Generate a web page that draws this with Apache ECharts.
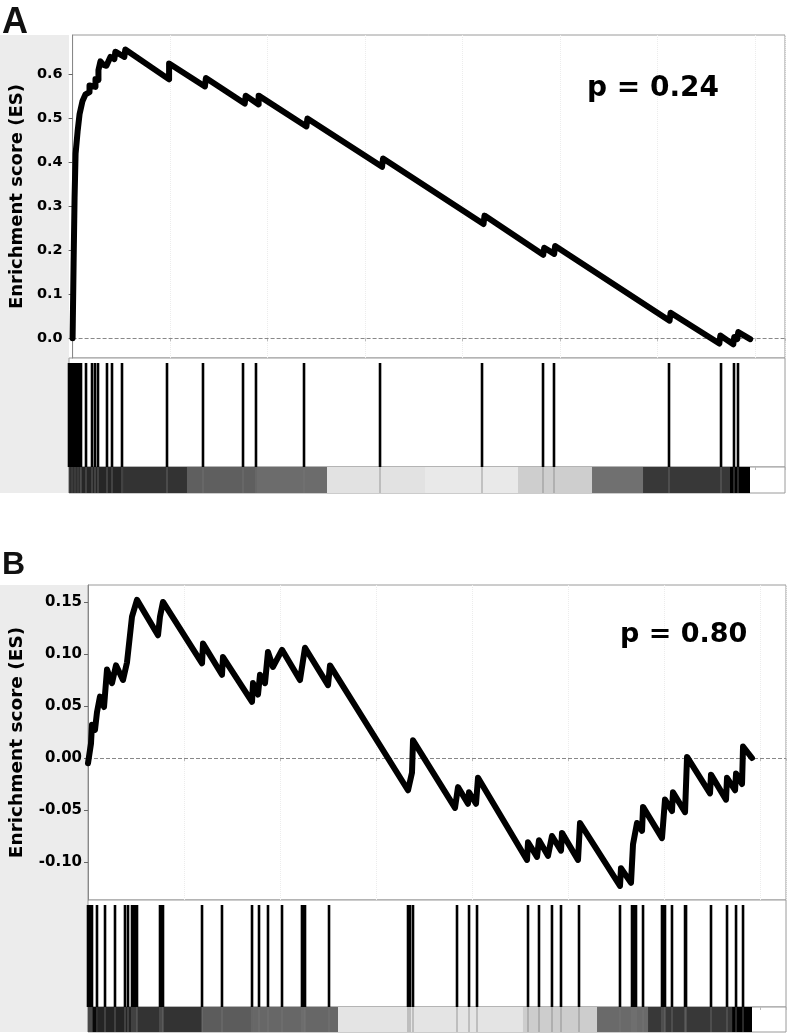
<!DOCTYPE html>
<html>
<head>
<meta charset="utf-8">
<script src="https://cdn.jsdelivr.net/npm/echarts@6/dist/echarts.min.js"></script>
<style>
  html, body { margin: 0; padding: 0; background: #fff; }
  #chart { width: 792px; height: 1036px; }
</style>
</head>
<body>
<div id="chart"></div>
<script>
// ---- panel A : running enrichment score, [rank, ES]
const esA = [
  [0, 0], [26, 0.17], [51, 0.32], [77, 0.42], [128, 0.47], [179, 0.51], [255, 0.54], [332, 0.555],
  [434, 0.56], [434, 0.575], [587, 0.572], [587, 0.59], [663, 0.588], [663, 0.61], [714, 0.63],
  [791, 0.622], [867, 0.62], [969, 0.64], [1071, 0.635], [1097, 0.652], [1327, 0.64], [1352, 0.657],
  [1403, 0.657], [2474, 0.589], [2474, 0.625], [3393, 0.573], [3418, 0.592], [4413, 0.534],
  [4439, 0.552], [4770, 0.532], [4770, 0.552], [5995, 0.482], [6020, 0.5], [7934, 0.39],
  [7959, 0.409], [10536, 0.26], [10561, 0.279], [12066, 0.19], [12092, 0.206], [12347, 0.192],
  [12372, 0.21], [15306, 0.04], [15332, 0.058], [16582, -0.012], [16607, 0.006], [16939, -0.014],
  [16964, 0.003], [17041, -0.002], [17066, 0.014], [17372, -0.002]
];
// gene set members (ranks)
const hitsA = [0, 38, 77, 115, 153, 191, 230, 268, 306, 434, 587, 663, 740, 969, 1097, 1352,
  2500, 3418, 4439, 4770, 5995, 7934, 10536, 12092, 12372, 15306, 16633, 16964, 17066];
// ranked-list metric shading: [fromRank, toRank, grey level]
const shadeA = [
  [0, 281, 8], [281, 1378, 38], [1378, 3010, 51], [3010, 4796, 95], [4796, 6582, 108],
  [6582, 9082, 226], [9082, 11454, 233], [11454, 13342, 206], [13342, 14643, 112],
  [14643, 16862, 56], [16862, 17372, 0]
];
const ticksA = [0, 0.1, 0.2, 0.3, 0.4, 0.5, 0.6];
const pA = 'p = 0.24';

// ---- panel B
const esB = [
  [0, -0.005], [26, -0.005], [78, 0.014], [104, 0.032], [182, 0.027], [234, 0.044], [312, 0.059],
  [417, 0.049], [495, 0.085], [625, 0.072], [729, 0.089], [911, 0.075], [1016, 0.092],
  [1146, 0.136], [1276, 0.152], [1823, 0.118], [1875, 0.136], [1953, 0.15], [2969, 0.091],
  [2995, 0.11], [3489, 0.08], [3515, 0.097], [4271, 0.054], [4297, 0.072], [4427, 0.061],
  [4479, 0.08], [4609, 0.072], [4687, 0.102], [4817, 0.0875], [5052, 0.104], [5520, 0.075],
  [5651, 0.106], [6250, 0.07], [6302, 0.089], [8333, -0.031], [8437, -0.014], [8463, 0.017],
  [9557, -0.048], [9635, -0.028], [9895, -0.044], [9922, -0.033], [10104, -0.044],
  [10156, -0.019], [11432, -0.098], [11458, -0.081], [11692, -0.095], [11744, -0.079],
  [11978, -0.094], [12082, -0.075], [12317, -0.089], [12343, -0.072], [12760, -0.098],
  [12812, -0.0625], [13853, -0.123], [13879, -0.106], [14140, -0.12], [14192, -0.083],
  [14296, -0.0625], [14427, -0.07], [14453, -0.047], [14635, -0.058], [14947, -0.077],
  [15025, -0.04], [15207, -0.051], [15233, -0.033], [15547, -0.052], [15599, 0.001],
  [16197, -0.034], [16223, -0.016], [16614, -0.04], [16640, -0.019], [16849, -0.031],
  [16875, -0.015], [17031, -0.025], [17057, 0.011], [17290, 0]
];
const hitsB = [0, 26, 52, 78, 104, 234, 443, 703, 963, 1042, 1146, 1198, 1250, 1276, 1875, 1927,
  1953, 2969, 3489, 4271, 4453, 4687, 5052, 5572, 5625, 5651, 6276, 8333, 8385, 8463, 9609,
  9922, 10130, 11458, 11744, 12082, 12317, 12786, 13853, 14166, 14218, 14270, 14453, 14947,
  14999, 15025, 15207, 15547, 15573, 16223, 16640, 16875, 17057];
const shadeB = [
  [0, 260, 8], [260, 1276, 36], [1276, 2969, 51], [2969, 4297, 92], [4297, 6510, 103],
  [6510, 11327, 228], [11327, 13255, 205], [13255, 14583, 106], [14583, 16771, 56],
  [16771, 17290, 0]
];
const ticksB = [-0.1, -0.05, 0, 0.05, 0.1, 0.15];
const pB = 'p = 0.80';

const FONT = 'DejaVu Sans';

function hitItem(params, api) {
  const cs = params.coordSys;
  const x = api.coord([api.value(0), 0])[0];
  return {
    type: 'line',
    shape: { x1: x, y1: cs.y + 5, x2: x, y2: cs.y + cs.height },
    style: { stroke: '#000', lineWidth: 2.6 }
  };
}
function ghostItem(params, api) {
  const cs = params.coordSys;
  const x = api.coord([api.value(0), 0])[0];
  return {
    type: 'line',
    shape: { x1: x, y1: cs.y, x2: x, y2: cs.y + cs.height },
    style: { stroke: 'rgba(120,120,120,0.35)', lineWidth: 2 }
  };
}
function shadeItem(params, api) {
  const cs = params.coordSys;
  const x0 = api.coord([api.value(0), 0])[0];
  const x1 = api.coord([api.value(1), 0])[0];
  const g = api.value(2);
  return {
    type: 'rect',
    shape: { x: x0, y: cs.y, width: x1 - x0, height: cs.height },
    style: { fill: 'rgb(' + g + ',' + g + ',' + g + ')' }
  };
}

function panel(cfg, gi) {
  const grids = [
    { left: cfg.left, top: cfg.top, width: cfg.width, height: cfg.esH },
    { left: cfg.left, top: cfg.top + cfg.esH, width: cfg.width, height: cfg.hitH },
    { left: cfg.left, top: cfg.top + cfg.esH + cfg.hitH, width: cfg.width, height: cfg.barH }
  ].map(g => Object.assign(g, { show: true, borderColor: '#9a9a9a', borderWidth: 1, backgroundColor: '#fff' }));

  const xBase = (i, split) => ({
    gridIndex: gi + i, type: 'value', min: 0, max: cfg.xMax, interval: 2500, position: 'top',
    axisLine: { show: false }, axisLabel: { show: false },
    axisTick: { show: split !== null, inside: true, length: 3, lineStyle: { color: '#bbb' } },
    splitLine: { show: !!split, lineStyle: { color: '#ececec', type: 'dotted' } }
  });
  const xAxes = [xBase(0, true), xBase(1, false), xBase(2, null)];

  const yAxes = [
    {
      gridIndex: gi, type: 'value', min: cfg.yMin, max: cfg.yMax,
      axisLine: { show: true, lineStyle: { color: '#888' } },
      axisTick: { show: true, length: 4, customValues: cfg.ticks, lineStyle: { color: '#666' } },
      axisLabel: {
        customValues: cfg.ticks, formatter: v => v.toFixed(cfg.dec), margin: cfg.labelMargin,
        fontFamily: FONT, fontWeight: 'bold', fontSize: cfg.tickSize, color: '#000'
      },
      splitLine: { show: false },
      name: 'Enrichment score (ES)', nameLocation: 'middle', nameGap: cfg.nameGap,
      nameTextStyle: { fontFamily: FONT, fontWeight: 'bold', fontSize: cfg.nameSize, color: '#000' }
    },
    { gridIndex: gi + 1, type: 'value', min: 0, max: 1, show: false },
    { gridIndex: gi + 2, type: 'value', min: 0, max: 1, show: false }
  ];

  const series = [
    {
      type: 'line', xAxisIndex: gi, yAxisIndex: gi, data: cfg.es, showSymbol: false,
      lineStyle: { color: '#000', width: 6, join: 'round', cap: 'round' },
      z: 5,
      markLine: {
        silent: true, symbol: 'none', label: { show: false },
        lineStyle: { color: '#888', type: 'dashed', width: 1 },
        data: [{ yAxis: 0 }]
      }
    },
    {
      type: 'custom', xAxisIndex: gi + 1, yAxisIndex: gi + 1, renderItem: hitItem,
      data: cfg.hits.map(v => [v, 0]), encode: { x: 0, y: 1 }
    },
    {
      type: 'custom', xAxisIndex: gi + 2, yAxisIndex: gi + 2, renderItem: shadeItem,
      data: cfg.shade, encode: { x: [0, 1] }
    },
    {
      type: 'custom', xAxisIndex: gi + 2, yAxisIndex: gi + 2, renderItem: ghostItem,
      data: cfg.hits.map(v => [v, 0]), encode: { x: 0, y: 1 }, z: 3
    }
  ];

  const graphic = [
    { type: 'rect', shape: { x: 0, y: cfg.top, width: cfg.left, height: cfg.esH + cfg.hitH + cfg.barH },
      style: { fill: '#ececec' }, z: -10 },
    { type: 'text', left: 2, top: cfg.top - cfg.letterOff,
      style: { text: cfg.letter, font: 'bold ' + cfg.letterSize + 'px "Liberation Sans"', fill: '#111' } },
    { type: 'text', left: cfg.pX, top: cfg.pY,
      style: { text: cfg.p, font: 'bold ' + cfg.pSize + 'px "DejaVu Sans"', fill: '#000' }, z: 10 }
  ];
  return { grids, xAxes, yAxes, series, graphic };
}

const A = panel({
  left: 69, top: 35, width: 716, esH: 323, hitH: 109, barH: 26, xMax: 18265,
  yMin: -0.045, yMax: 0.69, ticks: ticksA, dec: 1, tickSize: 14.5, labelMargin: 10,
  nameGap: 44, nameSize: 18, es: esA, hits: hitsA, shade: shadeA,
  letter: 'A', letterSize: 36, letterOff: 30, p: pA, pX: 587, pY: 75, pSize: 28
}, 0);
const B = panel({
  left: 88, top: 585, width: 698, esH: 315, hitH: 107, barH: 25, xMax: 18176,
  yMin: -0.1365, yMax: 0.1663, ticks: ticksB, dec: 2, tickSize: 15, labelMargin: 6,
  nameGap: 61, nameSize: 18.5, es: esB, hits: hitsB, shade: shadeB,
  letter: 'B', letterSize: 32, letterOff: 36, p: pB, pX: 620, pY: 621, pSize: 27
}, 3);

const chart = echarts.init(document.getElementById('chart'));
chart.setOption({
  animation: false,
  backgroundColor: '#fff',
  grid: A.grids.concat(B.grids),
  xAxis: A.xAxes.concat(B.xAxes),
  yAxis: A.yAxes.concat(B.yAxes),
  series: A.series.concat(B.series),
  graphic: A.graphic.concat(B.graphic)
});
</script>
</body>
</html>
